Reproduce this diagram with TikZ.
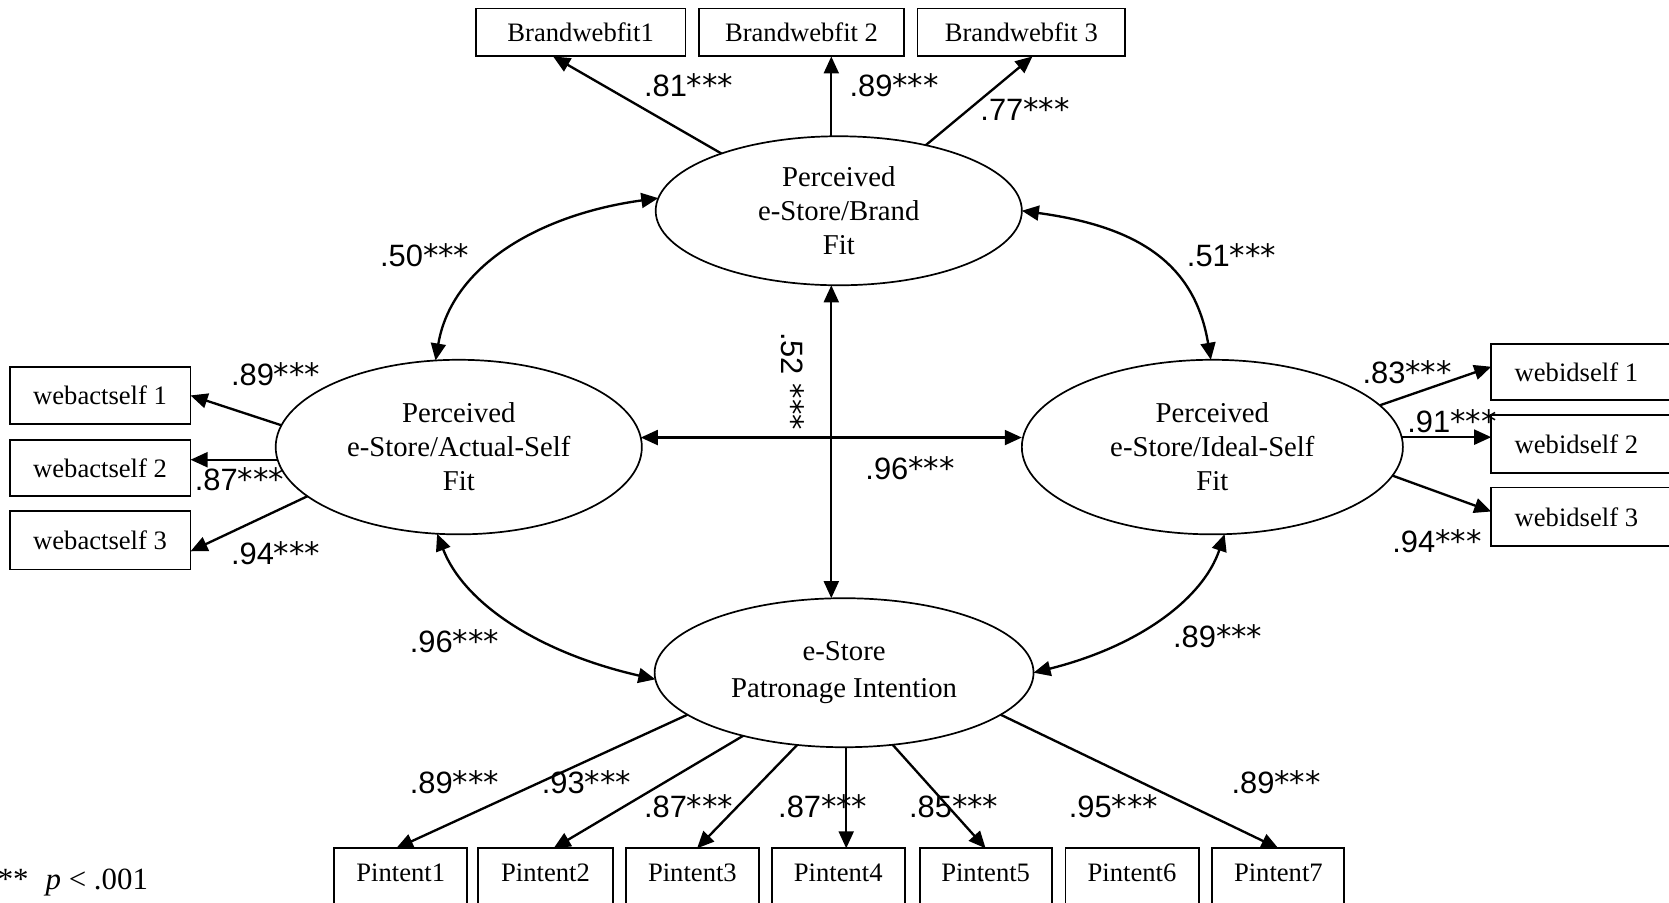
\documentclass[tikz,border=0pt]{standalone}
\usepackage{fontspec}
\setmainfont{Liberation Serif}
\newfontfamily\coeffont{Liberation Sans}
\newfontfamily\starfont{DejaVu Sans}
\newcommand{\sig}{{\starfont ***}}
\usetikzlibrary{shapes.geometric,arrows.meta}

\begin{document}
\begin{tikzpicture}[x=0.5pt, y=-0.5pt,
  every node/.style={inner sep=0pt, outer sep=0pt},
  ind/.style={draw, rectangle, line width=0.9pt, font=\fontsize{12.5}{14}\selectfont},
  lat/.style={draw, ellipse, line width=0.8pt, align=center,
              font=\fontsize{13.5}{16}\selectfont},
  coef/.style={font=\coeffont\fontsize{14.5}{17}\selectfont},
  load/.style={-{Triangle[length=8pt,width=7pt]}, line width=1.1pt},
  cov/.style={{Triangle[length=8pt,width=7pt]}-{Triangle[length=8pt,width=7pt]}, line width=1.1pt},
]
\useasboundingbox (0,0) rectangle (1568,848);

% latent constructs
\node[lat, minimum width=172pt, minimum height=70pt] (EB) at (788,198)
  {Perceived\\e-Store/Brand\\Fit};
\node[lat, minimum width=172pt, minimum height=82pt] (EA) at (431,420)
  {Perceived\\e-Store/Actual-Self\\Fit};
\node[lat, minimum width=179pt, minimum height=82pt] (EI) at (1139,420)
  {Perceived\\e-Store/Ideal-Self\\Fit};
\node[lat, minimum width=178pt, minimum height=70pt,
      font=\fontsize{13.5}{17.5}\selectfont] (EP) at (793,632)
  {e-Store\\Patronage Intention};

% brand/web fit indicators
\node[ind, minimum width=98.5pt, minimum height=22.5pt] (B1) at (545.5,30.5) {Brandwebfit1};
\node[ind, minimum width=96pt, minimum height=22.5pt] (B2) at (753,30.5) {Brandwebfit 2};
\node[ind, minimum width=97.5pt, minimum height=22.5pt] (B3) at (959.5,30.5) {Brandwebfit 3};

% actual-self indicators
\node[ind, minimum width=85pt, minimum height=26.5pt] (A1) at (94,371.5) {webactself 1};
\node[ind, minimum width=85pt, minimum height=26.5pt] (A2) at (94,439.5) {webactself 2};
\node[ind, minimum width=85pt, minimum height=27.5pt] (A3) at (94,507.5) {webactself 3};

% ideal-self indicators (running off the right edge)
\node[ind, anchor=west, minimum width=95pt, minimum height=26.5pt] (I1) at (1401,349.5)
  {\makebox[95pt][l]{\hspace{11pt}webidself 1}};
\node[ind, anchor=west, minimum width=95pt, minimum height=27pt] (I2) at (1401,417)
  {\makebox[95pt][l]{\hspace{11pt}webidself 2}};
\node[ind, anchor=west, minimum width=95pt, minimum height=27.5pt] (I3) at (1401,485.5)
  {\makebox[95pt][l]{\hspace{11pt}webidself 3}};

% patronage intention indicators (running off the bottom edge)
\tikzset{pbox/.style={ind, anchor=north, text height=15.5pt, text depth=20pt, inner ysep=0pt}}
\node[pbox, minimum width=62.5pt] (P1) at (376.5,797) {Pintent1};
\node[pbox, minimum width=63.5pt] (P2) at (512.5,797) {Pintent2};
\node[pbox, minimum width=62.5pt] (P3) at (650.5,797) {Pintent3};
\node[pbox, minimum width=62.5pt] (P4) at (787.5,797) {Pintent4};
\node[pbox, minimum width=62pt] (P5) at (926,797) {Pintent5};
\node[pbox, minimum width=62.5pt] (P6) at (1063.5,797) {Pintent6};
\node[pbox, minimum width=62pt] (P7) at (1201,797) {Pintent7};

% loadings
\coordinate (bx) at ([xshift=-3.5pt]EB.north);
\draw[load] (EB.154) -- (B1.-139);
\draw[load] (bx) -- (bx |- B2.south);
\draw[load] (EB.37) -- (B3.-65);

\draw[load] (EA.173) -- (A1.east);
\draw[load] (EA.184) -- (EA.184 -| A2.east);
\draw[load] (EA.198) -- (A3.-7);

\draw[load] (EI.14) -- (I1.177);
\draw[load] (EI.3) -- (EI.3 -| I2.west);
\draw[load] (EI.-9) -- (I3.177);

\draw[load] (EP.-165) -- (P1.97);
\draw[load] (EP.-148) -- (P2.78);
\draw[load] (EP.-123) -- (P3.83);
\draw[load] ([xshift=1pt]EP.south) -- ([xshift=1pt]EP.south |- P4.north);
\draw[load] (EP.-56) -- (P5.north);
\draw[load] (EP.-15) -- (P7.north);

% correlations among constructs
\draw[cov] (EB.176) .. controls +(-110,15) and +(15,-90) .. (EA.105);
\draw[cov] (EB.east) .. controls +(110,15) and +(-15,-90) .. (EI.91);
\draw[cov] (EA.-104) .. controls +(25,65) and +(-110,-25) .. (EP.182);
\draw[cov] (EI.-82) .. controls +(-20,60) and +(100,-25) .. (EP.east);
\coordinate (vx) at ([xshift=-3.5pt]EB.south);
\draw[cov] (vx) -- (vx |- EP.north);
\draw[cov] (EA.3) -- (EA.3 -| EI.west);

% coefficients
\node[coef] (c1) at (647,80) {.81\sig};
\node[coef] (c2) at (840,80) {.89\sig};
\node[coef] (c3) at (963,102) {.77\sig};
\node[coef] (c4) at (399,240) {.50\sig};
\node[coef] (c5) at (1157,240) {.51\sig};
\node[coef, rotate=-90] (c6) at (745,358) {.52 \sig};
\node[coef] (c7) at (855,440) {.96\sig};
\node[coef] (c8) at (259,352) {.89\sig};
\node[coef] (c9) at (225,450) {.87\sig};
\node[coef] (c10) at (259,520) {.94\sig};
\node[coef] (c11) at (1322,350) {.83\sig};
\node[coef] (c12) at (1364,396) {.91\sig};
\node[coef] (c13) at (1350,508) {.94\sig};
\node[coef] (c14) at (427,602) {.96\sig};
\node[coef] (c15) at (1144,598) {.89\sig};
\node[coef] (c16) at (427,735) {.89\sig};
\node[coef] (c17) at (551,735) {.93\sig};
\node[coef] (c18) at (647,757) {.87\sig};
\node[coef] (c19) at (773,757) {.87\sig};
\node[coef] (c20) at (896,757) {.85\sig};
\node[coef] (c21) at (1046,757) {.95\sig};
\node[coef] (c22) at (1199,735) {.89\sig};

% significance note
\node[anchor=base east, font=\fontsize{14.5}{16}\selectfont] (note) at (139,836)
  {***\hspace{0.55em}\textit{p} < .001};
\end{tikzpicture}
\end{document}
